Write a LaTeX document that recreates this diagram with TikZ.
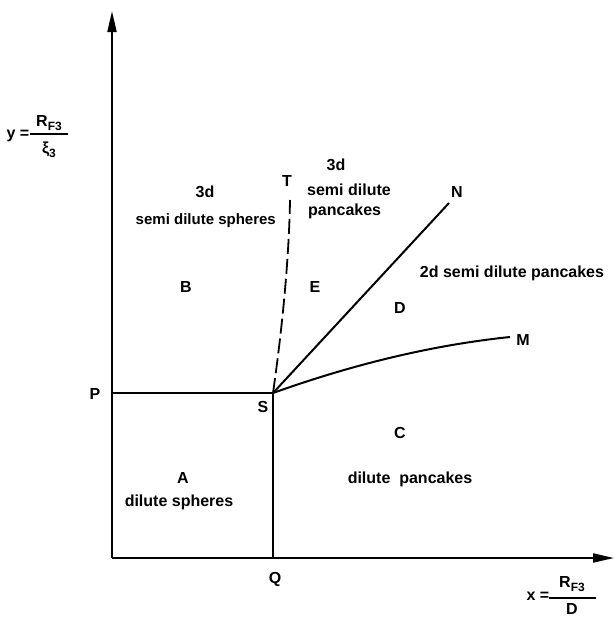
\documentclass[tikz,border=0pt]{standalone}
\usepackage{fontspec}
\setmainfont{Liberation Sans}
\usetikzlibrary{arrows.meta}
\tikzset{
  lbl/.style={font=\fontsize{16}{18}\selectfont\bfseries, inner sep=0pt, anchor=center},
  axis/.style={line width=2pt, -{Triangle[length=21pt,width=9pt]}},
  thin/.style={line width=1.3pt},
  bound/.style={line width=2pt},
  dashbound/.style={line width=1.8pt, dash pattern=on 15pt off 5pt},
}
\newcommand{\sbs}[1]{\raisebox{-3.5pt}{\fontsize{12}{12}\selectfont\bfseries #1}}
\begin{document}
\begin{tikzpicture}[x=1pt,y=-1pt]
\useasboundingbox (0,0) rectangle (615,619);
% key points
\coordinate (O) at (112,558);
\coordinate (Ytip) at (112,11);
\coordinate (Xtip) at (614,558);
\coordinate (S) at (273,393);
\coordinate (Pc) at (112,393);
\coordinate (Qc) at (273,558);
\coordinate (Tc) at (290,200);
\coordinate (Nc) at (449,203);
\coordinate (Mc) at (510,337);
% axes
\draw[axis] (O) -- (Ytip);
\draw[axis] (O) -- (Xtip);
% region boundaries
\draw[thin] (Pc) -- (S);
\draw[thin] (S) -- (Qc);
\draw[dashbound] (S) .. controls (282,330) and (289,260) .. (Tc);
\draw[bound] (S) -- (Nc);
\draw[bound] (S) .. controls (354,364) and (433,345) .. (Mc);
% point labels
\node[lbl] (P) at (95,394) {P};
\node[lbl] (Slab) at (263,407) {S};
\node[lbl] (Q) at (275,579) {Q};
\node[lbl] (T) at (287,181) {T};
\node[lbl] (N) at (457,192) {N};
\node[lbl] (M) at (523,340) {M};
% region labels
\node[lbl] (A) at (183,478) {A};
\node[lbl] (Atxt) at (179,502) {dilute spheres};
\node[lbl] (B) at (186,287) {B};
\node[lbl] (B3d) at (205,192) {3d};
\node[lbl, anchor=east, font=\fontsize{15}{17}\selectfont\bfseries] (Btxt) at (276,221) {semi dilute spheres};
\node[lbl] (C) at (400,433) {C};
\node[lbl] (Ctxt) at (410,479) {dilute\ \ pancakes};
\node[lbl] (D) at (400,308) {D};
\node[lbl] (Dtxt) at (512,273) {2d semi dilute pancakes};
\node[lbl] (E) at (315,287) {E};
\node[lbl] (E3d) at (336,165) {3d};
\node[lbl, anchor=west] (Etxt1) at (307,190) {semi dilute};
\node[lbl, anchor=west] (Etxt2) at (308,211) {pancakes};
% y axis label
\node[lbl] (yeq) at (18,136) {y =};
\node[lbl] (ynum) at (49,123) {R\sbs{F3}};
\node[lbl] (yden) at (49,150) {ξ\sbs{3}};
\draw[line width=1.2pt] (30,134) -- (68,134);
% x axis label
\node[lbl] (xeq) at (538,596) {x =};
\node[lbl] (xnum) at (572,584) {R\sbs{F3}};
\node[lbl] (xden) at (572,609) {D};
\draw[line width=1.2pt] (549,598) -- (596,598);
\end{tikzpicture}
\end{document}
